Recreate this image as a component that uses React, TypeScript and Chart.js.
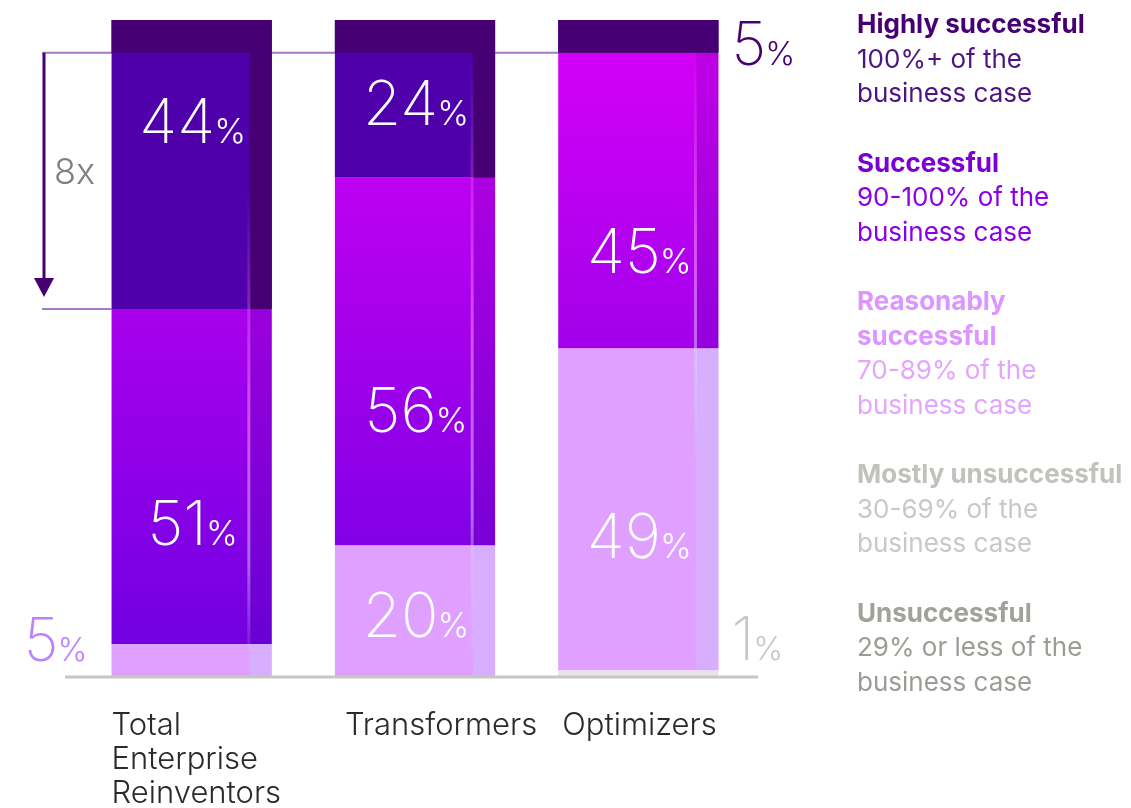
import React, { useEffect, useRef } from "react";
import { Chart, registerables } from "chart.js";

Chart.register(...registerables);

// ---------- data ----------
const categories = ["Total Enterprise Reinventors", "Transformers", "Optimizers"];
const categoryLines = [["Total", "Enterprise", "Reinventors"], ["Transformers"], ["Optimizers"]];

const unsuccessful = [0, 0, 0];
const mostlyUnsuccessful = [0, 0, 1];
const reasonablySuccessful = [5, 20, 49];
const successful = [51, 56, 45];
const highlySuccessful = [44, 24, 5];

const legendTitles = [
  ["Highly successful"],
  ["Successful"],
  ["Reasonably", "successful"],
  ["Mostly unsuccessful"],
  ["Unsuccessful"],
];
const legendDescriptions = [
  ["100%+ of the", "business case"],
  ["90-100% of the", "business case"],
  ["70-89% of the", "business case"],
  ["30-69% of the", "business case"],
  ["29% or less of the", "business case"],
];
const multipleLabel = "8x";

// ---------- styles ----------
const FONT = "Inter, 'Noto Sans', sans-serif";
const C_HIGH = "#460073";
const C_HIGH_INNER = "#5000ab";
const C_REAS = "#e0a0ff";
const C_MOSTLY = "#ebe3eb";
const C_UNSUC = "#a0a09a";

// label nudges (px) relative to segment centre: [bar][dataset]
// dataset order: unsuccessful, mostly, reasonably, successful, highly
const INSIDE_NUDGE = [
  [0, 0, 0, 68, -22],
  [0, 0, 26, 70, 26],
  [0, 0, 49, 72, 0],
];
const OUTSIDE_NUDGE = [
  [0, 0, 0, 0, 0],
  [0, 0, 0, 0, 0],
  [0, -14, 0, 0, 29],
];
const CAT_X_NUDGE = [0, 10, 4];

function drawPct(
  ctx: CanvasRenderingContext2D,
  value: number,
  x: number,
  baseline: number,
  color: string,
  big: number,
  small: number,
  align: "center" | "left" | "right"
) {
  const num = String(value);
  ctx.save();
  ctx.fillStyle = color;
  ctx.textBaseline = "alphabetic";
  ctx.textAlign = "left";
  ctx.font = `200 ${big}px ${FONT}`;
  const w1 = ctx.measureText(num).width;
  ctx.font = `300 ${small}px ${FONT}`;
  const w2 = ctx.measureText("%").width;
  const gap = -1;
  const total = w1 + gap + w2;
  let start = x;
  if (align === "center") start = x - total / 2;
  if (align === "right") start = x - total;
  ctx.font = `200 ${big}px ${FONT}`;
  ctx.fillText(num, start, baseline);
  ctx.font = `300 ${small}px ${FONT}`;
  ctx.fillText("%", start + w1 + gap, baseline);
  ctx.restore();
}

const decorPlugin = {
  id: "decor",
  beforeDatasetsDraw(chart: any) {
    const { ctx } = chart;
    const y = chart.scales.y;
    const meta0 = chart.getDatasetMeta(0);
    const bar0 = meta0.data[0];
    const bar2 = meta0.data[2];
    const w = bar0.width;
    const yTopLine = y.getPixelForValue(100 - highlySuccessful[2]);
    const yBotLine = y.getPixelForValue(100 - highlySuccessful[0]);
    ctx.save();
    ctx.strokeStyle = "rgba(130,80,175,0.75)";
    ctx.lineWidth = 2;
    ctx.beginPath();
    ctx.moveTo(42, yTopLine);
    ctx.lineTo(bar2.x - w / 2, yTopLine);
    ctx.moveTo(42, yBotLine);
    ctx.lineTo(bar0.x - w / 2, yBotLine);
    ctx.stroke();
    // arrow
    ctx.strokeStyle = C_HIGH;
    ctx.fillStyle = C_HIGH;
    ctx.lineWidth = 3;
    ctx.beginPath();
    ctx.moveTo(44, yTopLine);
    ctx.lineTo(44, yBotLine - 28);
    ctx.stroke();
    ctx.beginPath();
    ctx.moveTo(34, yBotLine - 31);
    ctx.lineTo(54, yBotLine - 31);
    ctx.lineTo(44, yBotLine - 12);
    ctx.closePath();
    ctx.fill();
    // 8x
    ctx.fillStyle = "#7f7f7f";
    ctx.font = `300 36px ${FONT}`;
    ctx.textAlign = "left";
    ctx.textBaseline = "alphabetic";
    ctx.fillText(multipleLabel, 54, 184);
    ctx.restore();
  },
  afterDatasetsDraw(chart: any) {
    const { ctx } = chart;
    const y = chart.scales.y;
    const meta0 = chart.getDatasetMeta(0);
    const nBars = categories.length;
    const capBottom = y.getPixelForValue(100 - highlySuccessful[2]);
    const top = y.getPixelForValue(100);
    for (let i = 0; i < nBars; i++) {
      const b = meta0.data[i];
      const left = b.x - b.width / 2;
      const right = b.x + b.width / 2;
      const sw = b.width * 0.14;
      const mH = chart.getDatasetMeta(4).data[i];
      const mS = chart.getDatasetMeta(3).data[i];
      const mR = chart.getDatasetMeta(2).data[i];
      ctx.save();
      // dark cap
      ctx.fillStyle = C_HIGH;
      ctx.fillRect(left, top, b.width, capBottom - top);
      // highly strip
      if (mH.base > capBottom) {
        ctx.fillRect(right - sw, capBottom, sw, mH.base - capBottom);
      }
      // successful strip
      ctx.fillStyle = "rgba(50,0,110,0.12)";
      ctx.fillRect(right - sw, Math.max(mS.y, capBottom), sw, mS.base - Math.max(mS.y, capBottom));
      // reasonably strip
      ctx.fillStyle = "rgba(200,200,255,0.35)";
      ctx.fillRect(right - sw, mR.y, sw, mR.base - mR.y);
      // glow line
      const g0 = Math.max(mS.y - 120, capBottom);
      const g1 = Math.min(mR.y + 120, mR.base);
      const g = ctx.createLinearGradient(0, g0, 0, g1);
      g.addColorStop(0, "rgba(255,120,255,0)");
      g.addColorStop(0.45, "rgba(255,140,255,0.55)");
      g.addColorStop(0.75, "rgba(220,210,255,0.5)");
      g.addColorStop(1, "rgba(220,210,255,0)");
      ctx.fillStyle = g;
      ctx.fillRect(right - sw - 2, g0, 3, g1 - g0);
      ctx.restore();
    }
    // baseline
    const bottom = y.getPixelForValue(0);
    ctx.save();
    ctx.strokeStyle = "#c6c6c2";
    ctx.lineWidth = 3;
    ctx.beginPath();
    ctx.moveTo(65, bottom);
    ctx.lineTo(758, bottom);
    ctx.stroke();
    ctx.restore();

    // value labels
    const outColors = [C_UNSUC, "#c8c8c8", "#b982ff", "#8a00e6", C_HIGH];
    for (let d = 0; d < 5; d++) {
      const meta = chart.getDatasetMeta(d);
      const vals = chart.data.datasets[d].data as number[];
      for (let i = 0; i < nBars; i++) {
        const v = vals[i];
        if (!v) continue;
        const el = meta.data[i];
        const center = (el.y + el.base) / 2;
        const left = el.x - el.width / 2;
        const right = el.x + el.width / 2;
        if (v >= 10) {
          drawPct(ctx, v, el.x + 1, center + INSIDE_NUDGE[i][d], "#ffffff", 62, 34, "center");
        } else if (i === 0) {
          drawPct(ctx, v, left - 24, center + OUTSIDE_NUDGE[i][d], outColors[d], 60, 32, "right");
        } else {
          drawPct(ctx, v, right + 13, center + OUTSIDE_NUDGE[i][d], outColors[d], 60, 32, "left");
        }
      }
    }

    // category labels
    ctx.save();
    ctx.fillStyle = "#2a2a2a";
    ctx.font = `300 31px ${FONT}`;
    ctx.textAlign = "left";
    ctx.textBaseline = "alphabetic";
    for (let i = 0; i < nBars; i++) {
      const b = meta0.data[i];
      const left = b.x - b.width / 2 + CAT_X_NUDGE[i];
      categoryLines[i].forEach((line, k) => {
        ctx.fillText(line, left, bottom + 58 + k * 34);
      });
    }
    ctx.restore();

    // legend
    const headColors = [C_HIGH, "#7a00d6", "#dd95ff", "#c2c2bc", "#a2a29a"];
    const descColors = ["#4d1582", "#8a00ea", "#e2a6ff", "#c8c8c4", "#9c9c96"];
    ctx.save();
    ctx.textAlign = "left";
    ctx.textBaseline = "alphabetic";
    let yy = 33;
    const lx = 857;
    const lh = 34.5;
    for (let k = 0; k < legendTitles.length; k++) {
      ctx.fillStyle = headColors[k];
      ctx.font = `700 26px ${FONT}`;
      legendTitles[k].forEach((t) => {
        ctx.fillText(t, lx, yy);
        yy += lh;
      });
      ctx.fillStyle = descColors[k];
      ctx.font = `400 26px ${FONT}`;
      legendDescriptions[k].forEach((t) => {
        ctx.fillText(t, lx, yy);
        yy += lh;
      });
      yy += 35;
    }
    ctx.restore();
  },
};

export default function App() {
  const ref = useRef<HTMLCanvasElement>(null);
  useEffect(() => {
    if (!ref.current) return;
    const successGradient = (c: any) => {
      const chart = c.chart;
      const area = chart.chartArea;
      if (!area) return "#a100ff";
      const g = chart.ctx.createLinearGradient(0, area.top, 0, area.bottom);
      g.addColorStop(0, "#d800f8");
      g.addColorStop(1, "#6c00e0");
      return g;
    };
    const common = { barPercentage: 1, categoryPercentage: 0.7175, borderWidth: 0 };
    const chart = new Chart(ref.current, {
      type: "bar",
      data: {
        labels: categories,
        datasets: [
          { label: "Unsuccessful", data: unsuccessful, backgroundColor: C_UNSUC, ...common },
          { label: "Mostly unsuccessful", data: mostlyUnsuccessful, backgroundColor: C_MOSTLY, ...common },
          { label: "Reasonably successful", data: reasonablySuccessful, backgroundColor: C_REAS, ...common },
          { label: "Successful", data: successful, backgroundColor: successGradient, ...common },
          { label: "Highly successful", data: highlySuccessful, backgroundColor: C_HIGH_INNER, ...common },
        ],
      },
      options: {
        responsive: false,
        animation: false,
        layout: { padding: { left: 80, right: 381, top: 20, bottom: 131 } },
        plugins: { legend: { display: false }, tooltip: { enabled: false } },
        scales: {
          x: { stacked: true, display: false },
          y: { stacked: true, display: false, min: 0, max: 100 },
        },
      },
      plugins: [decorPlugin],
    });
    return () => chart.destroy();
  }, []);
  return (
    <div style={{ position: "fixed", left: 0, top: 0, width: 1131, height: 808, background: "#fff" }}>
      <canvas ref={ref} width={1131} height={808} style={{ display: "block", width: 1131, height: 808 }} />
    </div>
  );
}
